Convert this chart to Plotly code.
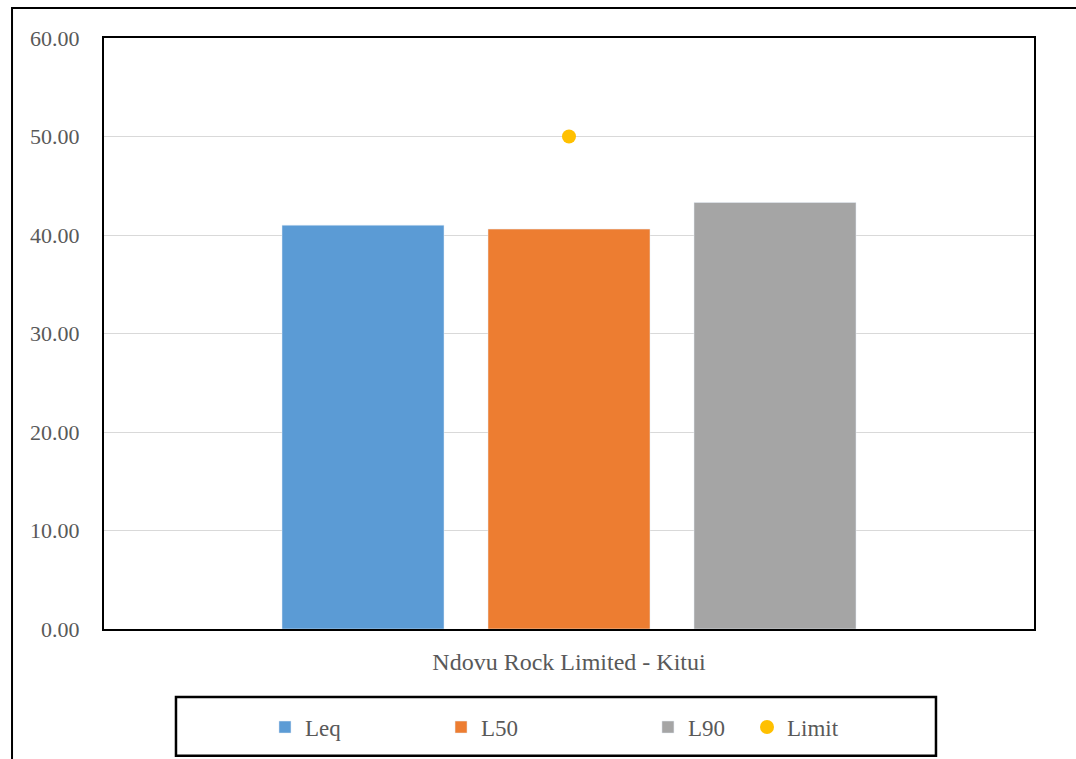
import plotly.graph_objects as go

# Noise levels measured at the site (dB(A)) against the permissible limit
categories = ["Ndovu Rock Limited - Kitui"]
leq = [41.0]
l50 = [40.6]
l90 = [43.3]
limit = [50.0]

y_ticks = [0, 10, 20, 30, 40, 50, 60]

serif = "'Liberation Serif', 'Times New Roman', Times, serif"
grey_text = "#595959"

fig = go.Figure()
fig.add_trace(go.Bar(x=categories, y=leq, name="Leq", marker_color="#5B9BD5", legend="legend"))
fig.add_trace(go.Bar(x=categories, y=l50, name="L50", marker_color="#ED7D31", legend="legend2"))
fig.add_trace(go.Bar(x=categories, y=l90, name="L90", marker_color="#A5A5A5", legend="legend3"))
fig.add_trace(go.Scatter(x=categories, y=limit, name="Limit", mode="markers",
                         marker=dict(color="#FFC000", size=14), legend="legend4"))

legend_common = dict(
    orientation="h", yanchor="middle", y=-0.164, xanchor="left",
    bgcolor="rgba(0,0,0,0)", borderwidth=0,
    font=dict(family=serif, size=23, color=grey_text),
)

fig.update_layout(
    width=1076, height=759,
    margin=dict(l=104, r=42, t=38, b=129),
    paper_bgcolor="white", plot_bgcolor="white",
    font=dict(family=serif),
    barmode="group", bargap=0.3355, bargroupgap=0.2136,
    showlegend=True,
    legend=dict(legend_common, x=0.1731),
    legend2=dict(legend_common, x=0.3624),
    legend3=dict(legend_common, x=0.5849),
    legend4=dict(legend_common, x=0.6914),
    xaxis=dict(
        showline=True, mirror=True, linecolor="black", linewidth=2,
        showgrid=False, ticks="", ticklabelstandoff=10,
        tickfont=dict(family=serif, size=24, color=grey_text),
    ),
    yaxis=dict(
        range=[0, 60], tickvals=y_ticks, tickformat=".2f",
        showline=True, mirror=True, linecolor="black", linewidth=2,
        showgrid=True, gridcolor="#D9D9D9", gridwidth=1,
        zeroline=False, ticks="", ticklabelstandoff=18,
        tickfont=dict(family=serif, size=22, color=grey_text),
    ),
    shapes=[
        # outer chart frame (extends past the page on the right and bottom)
        dict(type="rect", xref="paper", yref="paper",
             x0=-0.0989, x1=1.2, y0=-0.30, y1=1.0507,
             line=dict(color="black", width=2), fillcolor="rgba(0,0,0,0)", layer="below"),
        # legend box
        dict(type="rect", xref="paper", yref="paper",
             x0=0.0774, x1=0.8946, y0=-0.2145, y1=-0.1149,
             line=dict(color="black", width=2.5), fillcolor="rgba(0,0,0,0)"),
    ],
)

fig.write_html("out.html")
